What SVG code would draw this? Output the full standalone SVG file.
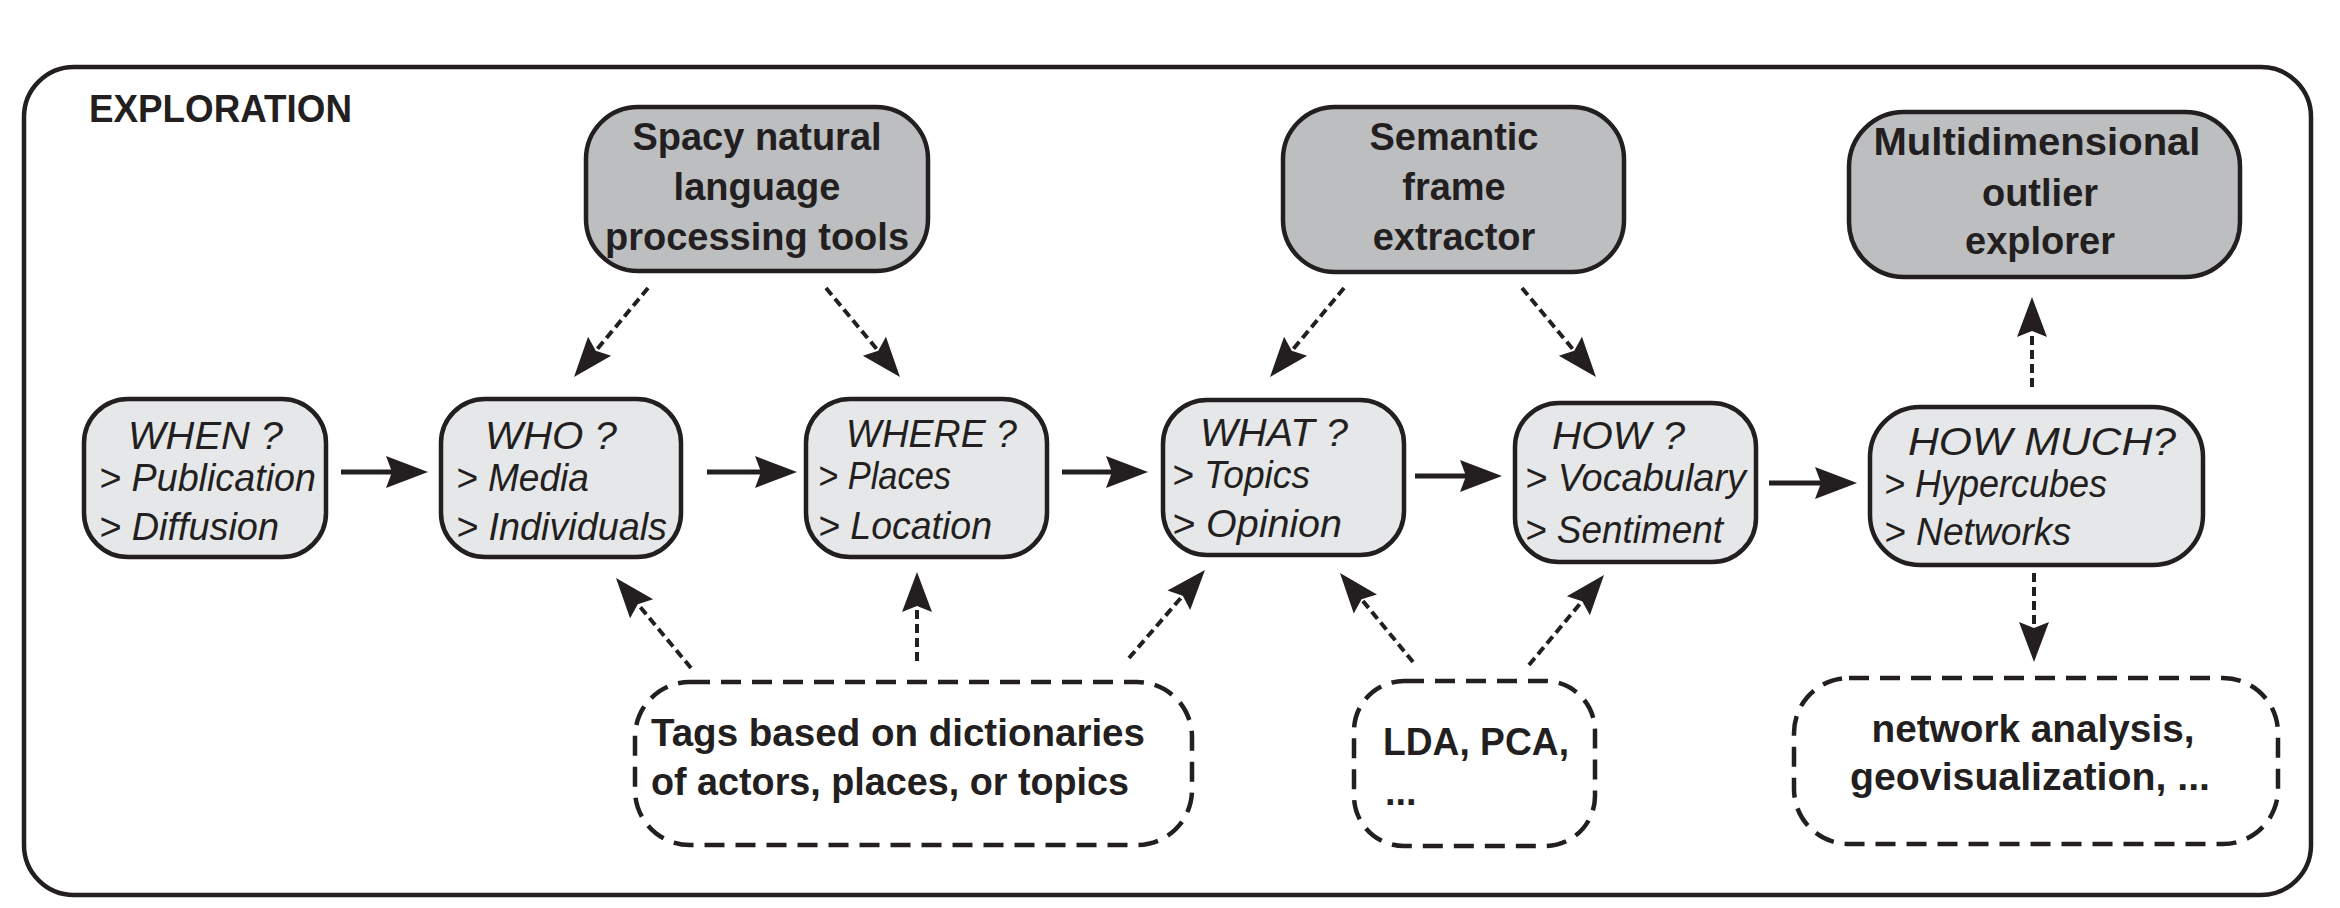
<svg xmlns="http://www.w3.org/2000/svg" width="2340" height="908" viewBox="0 0 2340 908">
<defs>
<style>
.frame{fill:#ffffff;stroke:#231f20;stroke-width:4.5}
.tool{fill:#bcbec0;stroke:#231f20;stroke-width:4.5}
.q{fill:#e6e7e8;stroke:#231f20;stroke-width:4.5}
.ext{fill:none;stroke:#231f20;stroke-width:4.5;stroke-dasharray:20 11}
.b{font-family:"Liberation Sans",Arial,sans-serif;font-weight:bold;font-size:38px;fill:#231f20}
.bc{text-anchor:middle}
.i{font-family:"Liberation Sans",Arial,sans-serif;font-style:italic;font-size:39px;fill:#231f20}
.solid{fill:none;stroke:#231f20;stroke-width:5;marker-end:url(#hs)}
.dash{fill:none;stroke:#231f20;stroke-width:4;stroke-dasharray:9 5;marker-end:url(#hd)}
</style>
<marker id="hs" markerUnits="userSpaceOnUse" orient="auto" refX="0" refY="0" markerWidth="60" markerHeight="60" overflow="visible">
<path d="M36,0 L-6,-16 L0,0 L-6,16 Z" fill="#231f20"/>
</marker>
<marker id="hd" markerUnits="userSpaceOnUse" orient="auto" refX="0" refY="0" markerWidth="60" markerHeight="60" overflow="visible">
<path d="M35,0 L-5,-15 L1,0 L-5,15 Z" fill="#231f20"/>
</marker>
</defs>
<rect width="2340" height="908" fill="#ffffff"/>
<g id="exploration">
<rect class="frame" x="24" y="67" width="2287" height="828" rx="50" ry="50"/>
<text class="b" x="89" y="122" textLength="263" lengthAdjust="spacingAndGlyphs">EXPLORATION</text>
</g>
<g id="spacy">
<rect class="tool" x="586" y="107" width="342" height="164" rx="52" ry="52"/>
<text class="b bc" x="757" y="150">Spacy natural</text>
<text class="b bc" x="757" y="200">language</text>
<text class="b bc" x="757" y="250">processing tools</text>
</g>
<g id="semantic">
<rect class="tool" x="1283" y="107" width="341" height="165" rx="52" ry="52"/>
<text class="b bc" x="1454" y="150">Semantic</text>
<text class="b bc" x="1454" y="200">frame</text>
<text class="b bc" x="1454" y="250">extractor</text>
</g>
<g id="multidim">
<rect class="tool" x="1849" y="112" width="391" height="165" rx="55" ry="55"/>
<text class="b bc" x="2037" y="155" textLength="327" lengthAdjust="spacingAndGlyphs">Multidimensional</text>
<text class="b bc" x="2040" y="206">outlier</text>
<text class="b bc" x="2040" y="254">explorer</text>
</g>
<g id="when">
<rect class="q" x="84" y="399" width="242" height="158" rx="44" ry="44"/>
<text class="i" x="128" y="449" textLength="155" lengthAdjust="spacingAndGlyphs">WHEN ?</text>
<text class="i" x="99" y="491" textLength="217" lengthAdjust="spacingAndGlyphs">&gt; Publication</text>
<text class="i" x="99" y="540" textLength="180" lengthAdjust="spacingAndGlyphs">&gt; Diffusion</text>
</g>
<g id="who">
<rect class="q" x="441" y="399" width="240" height="158" rx="44" ry="44"/>
<text class="i" x="485" y="449" textLength="132" lengthAdjust="spacingAndGlyphs">WHO ?</text>
<text class="i" x="456" y="491" textLength="133" lengthAdjust="spacingAndGlyphs">&gt; Media</text>
<text class="i" x="456" y="540" textLength="211" lengthAdjust="spacingAndGlyphs">&gt; Individuals</text>
</g>
<g id="where">
<rect class="q" x="806" y="399" width="241" height="158" rx="44" ry="44"/>
<text class="i" x="846" y="447" textLength="171" lengthAdjust="spacingAndGlyphs">WHERE ?</text>
<text class="i" x="818" y="489" textLength="133" lengthAdjust="spacingAndGlyphs">&gt; Places</text>
<text class="i" x="818" y="539" textLength="174" lengthAdjust="spacingAndGlyphs">&gt; Location</text>
</g>
<g id="what">
<rect class="q" x="1163" y="400" width="241" height="155" rx="44" ry="44"/>
<text class="i" x="1200" y="446" textLength="148" lengthAdjust="spacingAndGlyphs">WHAT ?</text>
<text class="i" x="1172" y="488" textLength="138" lengthAdjust="spacingAndGlyphs">&gt; Topics</text>
<text class="i" x="1172" y="537" textLength="170" lengthAdjust="spacingAndGlyphs">&gt; Opinion</text>
</g>
<g id="how">
<rect class="q" x="1515" y="403" width="241" height="159" rx="44" ry="44"/>
<text class="i" x="1552" y="449" textLength="133" lengthAdjust="spacingAndGlyphs">HOW ?</text>
<text class="i" x="1525" y="491" textLength="221" lengthAdjust="spacingAndGlyphs">&gt; Vocabulary</text>
<text class="i" x="1525" y="543" textLength="198" lengthAdjust="spacingAndGlyphs">&gt; Sentiment</text>
</g>
<g id="howmuch">
<rect class="q" x="1870" y="407" width="333" height="158" rx="50" ry="50"/>
<text class="i" x="1908" y="455" textLength="268" lengthAdjust="spacingAndGlyphs">HOW MUCH?</text>
<text class="i" x="1884" y="497" textLength="223" lengthAdjust="spacingAndGlyphs">&gt; Hypercubes</text>
<text class="i" x="1884" y="545" textLength="187" lengthAdjust="spacingAndGlyphs">&gt; Networks</text>
</g>
<g id="tags">
<rect class="ext" x="635" y="682" width="557" height="163" rx="55" ry="55"/>
<text class="b" x="651" y="746" textLength="494" lengthAdjust="spacingAndGlyphs">Tags based on dictionaries</text>
<text class="b" x="651" y="795" textLength="478" lengthAdjust="spacingAndGlyphs">of actors, places, or topics</text>
</g>
<g id="lda">
<rect class="ext" x="1354" y="681" width="241" height="165" rx="50" ry="50"/>
<text class="b" x="1383" y="755" textLength="186" lengthAdjust="spacingAndGlyphs">LDA, PCA,</text>
<text class="b" x="1385" y="805">...</text>
</g>
<g id="network">
<rect class="ext" x="1794" y="678" width="484" height="166" rx="55" ry="55"/>
<text class="b bc" x="2033" y="742" textLength="323" lengthAdjust="spacingAndGlyphs">network analysis,</text>
<text class="b bc" x="2030" y="790" textLength="360" lengthAdjust="spacingAndGlyphs">geovisualization, ...</text>
</g>
<g id="connectors">
<line class="solid" x1="341" y1="472" x2="392" y2="472"/>
<line class="solid" x1="707" y1="472" x2="761" y2="472"/>
<line class="solid" x1="1062" y1="472" x2="1112" y2="472"/>
<line class="solid" x1="1415" y1="476" x2="1466" y2="476"/>
<line class="solid" x1="1769" y1="483" x2="1821" y2="483"/>
<line class="dash" x1="648" y1="288" x2="596.4" y2="350.1"/>
<line class="dash" x1="826" y1="288" x2="877.6" y2="350.1"/>
<line class="dash" x1="1344" y1="288" x2="1292.4" y2="350.1"/>
<line class="dash" x1="1522" y1="288" x2="1573.6" y2="350.1"/>
<line class="dash" x1="2032" y1="387" x2="2032" y2="332"/>
<line class="dash" x1="2034" y1="573" x2="2034" y2="627"/>
<line class="dash" x1="691" y1="668" x2="638.4" y2="604.9"/>
<line class="dash" x1="917" y1="661" x2="917" y2="607"/>
<line class="dash" x1="1129" y1="658" x2="1182.1" y2="596.5"/>
<line class="dash" x1="1413" y1="662" x2="1362.2" y2="600.1"/>
<line class="dash" x1="1529" y1="665" x2="1581.6" y2="601.9"/>
</g>
</svg>
